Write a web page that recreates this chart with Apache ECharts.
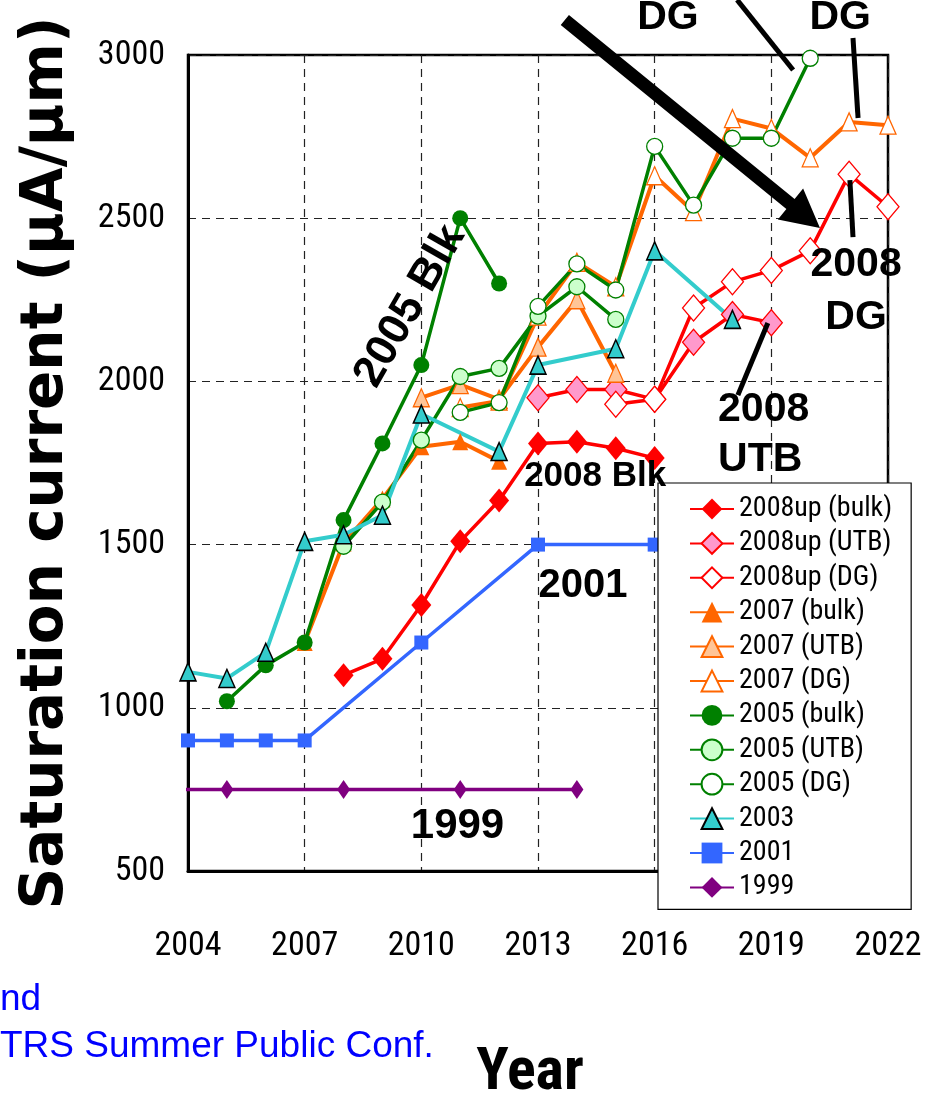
<!DOCTYPE html>
<html>
<head>
<meta charset="utf-8">
<script src="https://cdn.jsdelivr.net/npm/echarts@6.0.0/dist/echarts.min.js"></script>
<style>
  html, body { margin: 0; padding: 0; background: #fff; }
  #chart { width: 935px; height: 1101px; }
</style>
</head>
<body>
<div id="chart"></div>
<script>
// ITRS roadmap saturation current targets, [year, μA/μm]
const s08Bulk = [[2008,1100],[2009,1150],[2010,1315],[2011,1510],[2012,1635],[2013,1810],[2014,1815],[2015,1795],[2016,1765]];
const s08Utb  = [[2013,1950],[2014,1975],[2015,1975],[2016,1945],[2017,2120],[2018,2205],[2019,2180]];
const s08Dg   = [[2015,1930],[2016,1945],[2017,2225],[2018,2305],[2019,2340],[2020,2400],[2021,2635],[2022,2535]];
const s07Bulk = [[2007,1200],[2008,1505],[2009,1640],[2010,1800],[2011,1815],[2012,1755]];
const s07Utb  = [[2010,1950],[2011,1990],[2012,1945],[2013,2105],[2014,2250],[2015,2025]];
const s07Dg   = [[2011,1920],[2012,1940],[2013,2200],[2014,2365],[2015,2290],[2016,2630],[2017,2520],[2018,2805],[2019,2775],[2020,2685],[2021,2795],[2022,2785]];
const s05Bulk = [[2005,1020],[2006,1130],[2007,1200],[2008,1575],[2009,1810],[2010,2050],[2011,2500],[2012,2300]];
const s05Utb  = [[2008,1495],[2009,1630],[2010,1820],[2011,2015],[2012,2040],[2013,2200],[2014,2290],[2015,2190]];
const s05Dg   = [[2011,1905],[2012,1935],[2013,2230],[2014,2360],[2015,2280],[2016,2720],[2017,2540],[2018,2745],[2019,2745],[2020,2990]];
const s03     = [[2004,1110],[2005,1090],[2006,1170],[2007,1510],[2008,1530],[2009,1590],[2010,1900],[2012,1785],[2013,2050],[2015,2100],[2016,2400],[2018,2190]];
const s01     = [[2004,900],[2005,900],[2006,900],[2007,900],[2010,1200],[2013,1500],[2016,1500]];
const s99     = [[2002,750],[2005,750],[2008,750],[2011,750],[2014,750]];

const seriesNames = ['2008up (bulk)','2008up (UTB)','2008up (DG)','2007 (bulk)','2007 (UTB)','2007 (DG)',
                     '2005 (bulk)','2005 (UTB)','2005 (DG)','2003','2001','1999'];
const xTicks = [2004, 2007, 2010, 2013, 2016, 2019, 2022];
const yTicks = [500, 1000, 1500, 2000, 2500, 3000];

const NARROW = "'Roboto Condensed', 'DejaVu Sans Condensed', sans-serif";
const BOLD = "'Liberation Sans', Arial, sans-serif";

function line(name, data, o) {
  return {
    name, type: 'line', data,
    symbol: o.symbol, symbolSize: o.size,
    showAllSymbol: true, clip: true, animation: false,
    lineStyle: { color: o.line, width: o.width || 3.5 },
    itemStyle: { color: o.fill, borderColor: o.border || o.line, borderWidth: o.bw == null ? 1.3 : o.bw },
    emphasis: { disabled: true }
  };
}

const RED = '#ff0000', ORANGE = '#ff6600', GREEN = '#008000', CYAN = '#33cccc', BLUE = '#3366ff', PURPLE = '#800080';

const series = [
  line(seriesNames[0], s08Bulk, { symbol: 'diamond', size: [20, 24], line: RED, fill: RED, bw: 0 }),
  line(seriesNames[1], s08Utb,  { symbol: 'diamond', size: [22, 26], line: RED, fill: '#ff99cc' }),
  line(seriesNames[2], s08Dg,   { symbol: 'diamond', size: [22, 26], line: RED, fill: '#ffffff' }),
  line(seriesNames[3], s07Bulk, { symbol: 'triangle', size: [16, 17], line: ORANGE, fill: ORANGE, width: 4, bw: 0 }),
  line(seriesNames[4], s07Utb,  { symbol: 'triangle', size: [16, 18], line: ORANGE, fill: '#ffc597', width: 4 }),
  line(seriesNames[5], s07Dg,   { symbol: 'triangle', size: [16, 18], line: ORANGE, fill: '#ffffff', width: 4 }),
  line(seriesNames[6], s05Bulk, { symbol: 'circle', size: 16, line: GREEN, fill: GREEN, bw: 0 }),
  line(seriesNames[7], s05Utb,  { symbol: 'circle', size: 16, line: GREEN, fill: '#ccffcc' }),
  line(seriesNames[8], s05Dg,   { symbol: 'circle', size: 16, line: GREEN, fill: '#ffffff' }),
  line(seriesNames[9], s03,     { symbol: 'triangle', size: [16, 18], line: CYAN, fill: CYAN, border: '#000', width: 4, bw: 1.5 }),
  line(seriesNames[10], s01,    { symbol: 'rect', size: 14, line: BLUE, fill: BLUE, bw: 0 }),
  line(seriesNames[11], s99,    { symbol: 'diamond', size: [13, 19], line: PURPLE, fill: PURPLE, bw: 0 })
];

const chart = echarts.init(document.getElementById('chart'), null, { renderer: 'canvas' });

chart.setOption({
  backgroundColor: '#ffffff',
  animation: false,
  grid: {
    left: 188, top: 55, right: 47, bottom: 230, outerBoundsMode: 'none',
    show: true, borderColor: '#000', borderWidth: 2.5, backgroundColor: 'transparent'
  },
  xAxis: {
    type: 'value', min: xTicks[0], max: xTicks[xTicks.length - 1], interval: xTicks[1] - xTicks[0],
    axisLine: { lineStyle: { color: '#000', width: 3 } },
    axisTick: { show: false },
    axisLabel: { margin: 58, fontFamily: NARROW, fontSize: 34, color: '#000', formatter: v => String(v) },
    splitLine: { show: true, lineStyle: { color: '#222', width: 1.2, type: [8, 6] } },
    name: 'Year', nameLocation: 'middle', nameGap: 173,
    nameTextStyle: { fontFamily: NARROW, fontWeight: 'bold', fontSize: 60, color: '#000', padding: [0, 16, 0, 0] }
  },
  yAxis: {
    type: 'value', min: yTicks[0], max: yTicks[yTicks.length - 1], interval: yTicks[1] - yTicks[0],
    axisLine: { show: true, lineStyle: { color: '#000', width: 3 } },
    axisTick: { show: false },
    axisLabel: { margin: 23, fontFamily: NARROW, fontSize: 34, color: '#000', formatter: v => String(v) },
    splitLine: { show: true, lineStyle: { color: '#222', width: 1.2, type: [8, 6] } },
    name: 'Saturation current (μA/μm)', nameLocation: 'middle', nameGap: 112,
    nameTextStyle: { fontFamily: "'DejaVu Sans', sans-serif", fontWeight: 'bold', fontSize: 58, color: '#000' }
  },
  legend: {
    orient: 'vertical', left: 658, top: 483,
    padding: [11, 19, 7, 31],
    itemWidth: 44, itemHeight: 26, itemGap: 4.4,
    backgroundColor: '#fff', borderColor: '#000', borderWidth: 1.2,
    textStyle: { fontFamily: NARROW, fontSize: 28, lineHeight: 30, color: '#000' },
    data: seriesNames
  },
  series
});

// Annotations, positioned in data space (year, μA/μm)
const notes = [
  { text: 'DG',       at: [2016.34, 3113], size: 41 },
  { text: 'DG',       at: [2020.77, 3113], size: 41 },
  { text: '2008\nDG', at: [2021.18, 2275], size: 41, lh: 53 },
  { text: '2008\nUTB',at: [2017.63, 1836], size: 41, lh: 50, align: 'left' },
  { text: '2008 Blk', at: [2014.47, 1710], size: 35 },
  { text: '2001',     at: [2014.16, 1373], size: 40 },
  { text: '1999',     at: [2010.93, 638],  size: 42 },
  { text: '2005 Blk', at: [2009.71, 2231], size: 44, rot: 60 }
];
const leaders = [
  [[2018.12, 3169], [2019.56, 2954]],
  [[2021.10, 3052], [2021.23, 2807]],
  [[2021.02, 2617], [2021.10, 2442]],
  [[2018.91, 2179], [2018.14, 1958]]
];
const arrow = { from: [2013.69, 3107], to: [2020.25, 2470] };

const px = p => chart.convertToPixel({ xAxisIndex: 0, yAxisIndex: 0 }, p);
const graphics = [];

notes.forEach(n => {
  const [x, y] = px(n.at);
  graphics.push({
    type: 'text', x, y, z: 50,
    rotation: n.rot ? n.rot * Math.PI / 180 : 0,
    style: {
      text: n.text, x: 0, y: 0, fill: '#000',
      fontFamily: BOLD, fontWeight: 'bold', fontSize: n.size,
      lineHeight: n.lh || n.size,
      align: n.align || 'center', verticalAlign: 'middle'
    }
  });
});

leaders.forEach(([a, b]) => {
  const p1 = px(a), p2 = px(b);
  graphics.push({
    type: 'line', z: 50,
    shape: { x1: p1[0], y1: p1[1], x2: p2[0], y2: p2[1] },
    style: { stroke: '#000', lineWidth: 5 }
  });
});

(function () {
  const t = px(arrow.from), h = px(arrow.to);
  const dx = h[0] - t[0], dy = h[1] - t[1];
  const L = Math.hypot(dx, dy), ux = dx / L, uy = dy / L, nx = -uy, ny = ux;
  const headLen = 38, headHalf = 20, shaftHalf = 6.5;
  const bx = h[0] - ux * headLen, by = h[1] - uy * headLen;
  graphics.push({
    type: 'polygon', z: 50,
    shape: { points: [
      [t[0] + nx * shaftHalf, t[1] + ny * shaftHalf],
      [bx + nx * shaftHalf, by + ny * shaftHalf],
      [bx + nx * headHalf, by + ny * headHalf],
      [h[0], h[1]],
      [bx - nx * headHalf, by - ny * headHalf],
      [bx - nx * shaftHalf, by - ny * shaftHalf],
      [t[0] - nx * shaftHalf, t[1] - ny * shaftHalf]
    ] },
    style: { fill: '#000' }
  });
})();

// Source note, lower left
graphics.push({
  type: 'text', left: 0, top: 981, z: 50,
  style: { text: 'nd', fill: '#0000ff', fontFamily: "'Liberation Sans', Arial, sans-serif", fontSize: 37 }
});
graphics.push({
  type: 'text', left: 0, top: 1028, z: 50,
  style: { text: 'TRS Summer Public Conf.', fill: '#0000ff', fontFamily: "'Liberation Sans', Arial, sans-serif", fontSize: 37 }
});

chart.setOption({ graphic: graphics });
</script>
</body>
</html>
